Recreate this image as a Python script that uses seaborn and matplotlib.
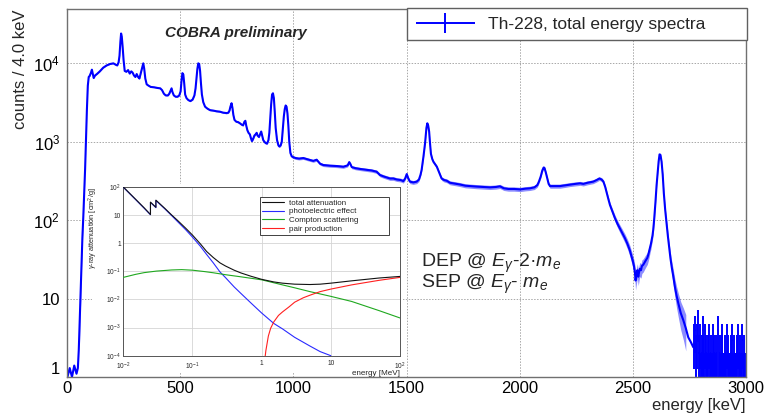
import numpy as np
import pandas as pd
import matplotlib
matplotlib.use('Agg')
import matplotlib.pyplot as plt
import matplotlib.ticker as mticker
from matplotlib.patches import Rectangle
from matplotlib.container import ErrorbarContainer
from matplotlib.legend_handler import HandlerErrorbar
import seaborn as sns

### spectrum: energy [keV] and counts per 4 keV bin
energy_kev = [
    2, 12, 22, 32, 42, 48, 52, 56, 60, 64,
    68, 72, 76, 80, 84, 88, 92, 96, 100, 106,
    110, 114, 118, 124, 132, 145, 160, 175, 190, 205,
    215, 222, 228, 232, 236, 239, 242, 246, 250, 255,
    262, 270, 277, 284, 290, 296, 302, 308, 314, 320,
    326, 332, 337, 341, 346, 352, 360, 370, 385, 400,
    412, 420, 428, 436, 446, 452, 458, 462, 466, 472,
    480, 488, 496, 502, 506, 510, 514, 518, 522, 528,
    536, 545, 555, 563, 568, 572, 576, 580, 584, 588,
    592, 596, 602, 610, 620, 632, 645, 660, 675, 690,
    705, 713, 718, 722, 727, 731, 735, 740, 748, 756,
    764, 772, 778, 784, 788, 792, 797, 802, 808, 813,
    817, 822, 828, 834, 838, 842, 848, 853, 858, 862,
    867, 872, 878, 884, 890, 894, 898, 902, 906, 910,
    914, 918, 922, 928, 934, 938, 944, 949, 953, 958,
    962, 966, 970, 974, 978, 982, 987, 993, 1000, 1010,
    1025, 1044, 1060, 1074, 1088, 1103, 1118, 1132, 1147, 1162,
    1192, 1221, 1240, 1247, 1252, 1258, 1275, 1295, 1320, 1346,
    1368, 1383, 1400, 1427, 1442, 1457, 1474, 1486, 1494, 1501,
    1508, 1515, 1530, 1545, 1555, 1562, 1567, 1575, 1582, 1588,
    1592, 1596, 1600, 1604, 1608, 1614, 1619, 1626, 1634, 1645,
    1655, 1666, 1678, 1692, 1707, 1722, 1736, 1760, 1781, 1810,
    1840, 1869, 1895, 1913, 1930, 1950, 1975, 2002, 2025, 2046,
    2065, 2078, 2085, 2093, 2100, 2106, 2110, 2116, 2122, 2128,
    2134, 2150, 2178, 2200, 2222, 2245, 2267, 2281, 2300, 2325,
    2340, 2352, 2362, 2370, 2378, 2385, 2392, 2399, 2410, 2421,
    2432, 2443, 2454, 2465, 2476, 2487, 2495, 2500, 2505, 2509,
    2512, 2516, 2520, 2524, 2528, 2531, 2536, 2540, 2546, 2552,
    2558, 2564, 2568, 2572, 2576, 2580, 2583, 2587, 2590, 2594,
    2597, 2600, 2605, 2610, 2614, 2618, 2622, 2627, 2632, 2637,
    2643, 2649, 2655, 2660, 2666, 2672, 2679, 2686, 2693, 2701,
    2712, 2723, 2734, 2745, 2756, 2767]
counts = [
    1.0, 1.3, 1.0, 1.4, 1.1, 1.3, 2.2, 5, 12, 28,
    60, 110, 220, 450, 1100, 2600, 5200, 6700, 6900, 7600,
    8300, 7300, 6500, 7000, 7300, 7900, 8800, 9400, 9800, 10000,
    9600, 9400, 10300, 12500, 19000, 24000, 22000, 16000, 11000, 8000,
    7800, 8200, 7400, 7900, 7600, 7000, 6700, 7300, 6700, 6400,
    7500, 8800, 10000, 8600, 6400, 5400, 5200, 5000, 4950, 4850,
    4800, 4550, 4100, 3900, 3900, 4100, 4500, 4800, 4300, 3900,
    3750, 3750, 3900, 4400, 6000, 7500, 7200, 5500, 4000, 3600,
    3400, 3300, 3450, 3900, 4800, 6500, 8500, 10000, 9800, 8000,
    5500, 4000, 3200, 2800, 2650, 2530, 2500, 2450, 2420, 2350,
    2320, 2350, 2500, 2800, 3100, 2700, 2200, 1900, 1800, 1780,
    1720, 1650, 1620, 1800, 1850, 1600, 1400, 1300, 1240, 1100,
    1020, 1080, 1200, 1250, 1300, 1200, 1150, 1250, 1350, 1200,
    1050, 1000, 960, 950, 1050, 1300, 2000, 3000, 4000, 4150,
    3600, 2400, 1500, 1050, 900, 870, 900, 1000, 1400, 2100,
    2600, 2900, 2800, 2300, 1600, 1000, 720, 650, 635, 620,
    610, 620, 600, 585, 570, 590, 525, 505, 500, 495,
    490, 480, 500, 550, 520, 475, 460, 450, 440, 430,
    415, 376, 360, 340, 340, 330, 325, 315, 340, 387,
    340, 310, 303, 310, 330, 380, 440, 650, 955, 1500,
    1720, 1600, 1350, 950, 700, 600, 555, 520, 480, 400,
    340, 325, 318, 300, 295, 290, 285, 275, 272, 268,
    265, 262, 265, 270, 255, 250, 250, 247, 252, 255,
    262, 280, 310, 360, 430, 470, 460, 400, 340, 290,
    272, 272, 272, 278, 285, 290, 295, 290, 300, 310,
    325, 340, 330, 310, 265, 220, 185, 156, 128, 106,
    90, 78, 68, 59, 50, 41, 34, 30, 26, 22,
    17, 20, 23, 19, 22, 24, 23, 26, 27, 29,
    31, 33, 36, 40, 45, 50, 56, 64, 75, 100,
    130, 170, 280, 420, 560, 690, 680, 556, 380, 220,
    135, 91, 62, 46, 33, 25, 19, 14, 11, 8.7,
    6.5, 5.3, 4.2, 3.2, 2.8, 2.4]

# low-statistics tail, 4 keV bins from 2772 keV on
tail_start_kev = 2772
tail_counts = [
    3, 4, 2, 3, 5, 2, 3, 1, 2, 4,
    2, 1, 3, 2, 1, 2, 3, 1, 2, 1,
    1, 3, 2, 1, 2, 1, 4, 1, 2, 1,
    2, 3, 1, 1, 2, 1, 3, 2, 1, 1,
    2, 1, 3, 1, 2, 1, 1, 2, 3, 1,
    2, 1, 1, 3, 1, 2, 1]

### inset: gamma-ray attenuation [cm^2/g] vs energy [MeV]
total_mev = [0.01, 0.015, 0.02, 0.0247, 0.0247, 0.0296, 0.0296, 0.04, 0.05, 0.06,
             0.08, 0.1, 0.13, 0.16, 0.2, 0.25, 0.3, 0.4, 0.5, 0.7,
             1, 1.5, 2, 3, 5, 7, 10, 20, 30, 50, 100]
total_att = [100, 37, 18.2, 10.5, 29, 19, 34, 17.2, 10.1, 6.7,
             3.4, 1.95, 0.95, 0.51, 0.31, 0.2, 0.155, 0.11, 0.088, 0.067,
             0.052, 0.042, 0.038, 0.035, 0.034, 0.035, 0.038, 0.046, 0.051, 0.058, 0.066]
photo_mev = [0.01, 0.015, 0.02, 0.0247, 0.0247, 0.0296, 0.0296, 0.04, 0.05, 0.06,
             0.08, 0.1, 0.13, 0.16, 0.2, 0.25, 0.3, 0.4, 0.5, 0.7,
             1, 1.5, 2, 3, 5, 7, 10]
photo_att = [98, 36, 17.6, 10.3, 28.3, 18.4, 33.3, 16.5, 9.6, 6.1,
             3.0, 1.65, 0.78, 0.40, 0.20, 0.095, 0.06, 0.028, 0.0165, 0.0075,
             0.0033, 0.0014, 0.0009, 0.00045, 0.00022, 0.00014, 0.0001]
compton_mev = [0.01, 0.015, 0.02, 0.03, 0.05, 0.07, 0.1, 0.15, 0.2, 0.3,
               0.5, 1, 2, 3, 5, 10, 20, 50, 100]
compton_att = [0.061, 0.078, 0.09, 0.102, 0.112, 0.115, 0.11, 0.098, 0.089, 0.076,
               0.064, 0.050, 0.033, 0.026, 0.019, 0.0129, 0.0085, 0.0040, 0.0022]
pair_mev = [1.06, 1.1, 1.15, 1.25, 1.35, 1.5, 1.75, 2, 2.5, 3,
            4, 5, 7, 10, 20, 30, 50, 100]
pair_att = [1e-5, 6e-5, 1.5e-4, 5e-4, 9.5e-4, 0.0016, 0.0027, 0.0036, 0.0055, 0.0080,
            0.0115, 0.0142, 0.019, 0.0234, 0.033, 0.039, 0.048, 0.061]

inset_names = ['total attenuation', 'photoelectric effect', 'Compton scattering', 'pair production']
inset_colors = ['#111111', '#2a2aff', '#1fa81f', '#ff2020']
inset_order = [5, 3, 3, 3]   # total attenuation drawn on top

sns.set_style('white')
plt.rcParams['font.family'] = ['Liberation Sans', 'DejaVu Sans']
plt.rcParams['mathtext.fontset'] = 'custom'
plt.rcParams['mathtext.rm'] = 'Liberation Sans'
plt.rcParams['mathtext.it'] = 'Liberation Sans:italic'
plt.rcParams['mathtext.bf'] = 'Liberation Sans:bold'

W, H = 767.0, 415.0


def px_box(x0, y0, x1, y1):
    return [x0 / W, 1 - y1 / H, (x1 - x0) / W, (y1 - y0) / H]


def pow_fmt(v, pos):
    p = int(round(np.log10(v)))
    if p == 0:
        return '1'
    if p == 1:
        return '10'
    return r'$10^{%d}$' % p


fig = plt.figure(figsize=(7.67, 4.15), dpi=100)
ax = fig.add_axes(px_box(67, 9, 746, 377))
ax.set_yscale('log')

spec = pd.DataFrame({'energy': energy_kev, 'counts': counts})
err = np.sqrt(spec['counts'])
ax.fill_between(spec['energy'], np.clip(spec['counts'] - err, 0.1, None),
                spec['counts'] + err, where=spec['counts'] >= 4,
                color='blue', alpha=0.45, lw=0)
sns.lineplot(data=spec, x='energy', y='counts', ax=ax, color='blue', lw=1.5,
             estimator=None, sort=False)

tc = np.array(tail_counts, dtype=float)
tail_e = tail_start_kev + 4 * np.arange(len(tc))
lo = tc - np.clip(tc - np.sqrt(tc), 0.05, None)
eb = ax.errorbar(tail_e, tc, yerr=[lo, np.sqrt(tc)], xerr=2, fmt='none',
                 ecolor='blue', elinewidth=1.4, label='Th-228, total energy spectra')

ax.set_xlim(0, 3000)
ax.set_ylim(1, 4.93e4)
ax.xaxis.set_major_locator(mticker.FixedLocator(range(0, 3001, 500)))
ax.xaxis.set_minor_locator(mticker.MultipleLocator(100))
ax.yaxis.set_major_locator(mticker.FixedLocator([1, 10, 100, 1e3, 1e4]))
ax.yaxis.set_minor_locator(mticker.LogLocator(subs=np.arange(2, 10), numticks=20))
ax.yaxis.set_minor_formatter(mticker.NullFormatter())
ax.yaxis.set_major_formatter(mticker.FuncFormatter(pow_fmt))
ax.tick_params(which='both', direction='in', color='#606060', labelcolor='black',
               labelsize=12, top=False, right=False)
ax.tick_params(which='major', length=7.5, width=0.8)
ax.tick_params(which='minor', length=4, width=0.8)
ax.tick_params(axis='y', pad=5)
ax.tick_params(axis='x', pad=3)
ax.grid(True, which='major', ls=(0, (1.5, 1.5)), color='#a8a8a8', lw=0.7)
ax.set_axisbelow(True)
for s in ax.spines.values():
    s.set_color('#707070')
    s.set_linewidth(1.0)

ax.set_xlabel('energy [keV]', loc='right', fontsize=12)
ax.xaxis.set_label_coords(1.0, -0.057)
ax.set_ylabel('counts / 4.0 keV', loc='top', fontsize=12)
ax.yaxis.set_label_coords(-0.057, 1.0)
ax.yaxis.get_major_ticks()[0].label1.set_verticalalignment('bottom')

leg = ax.legend(handles=[eb], labels=['Th-228, total energy spectra'],
                loc='upper left', bbox_to_anchor=(340 / 679, 1.003, 340 / 679, 0),
                mode='expand', borderaxespad=0, fontsize=12.5, handlelength=3.4,
                handletextpad=0.75, borderpad=0.5, fancybox=False, framealpha=1,
                edgecolor='#606060',
                handler_map={ErrorbarContainer: HandlerErrorbar(xerr_size=1.7, yerr_size=0.58)})
leg.get_frame().set_linewidth(1.0)

ax.text(0.2489, 0.9348, 'COBRA preliminary', transform=ax.transAxes, ha='center',
        va='center', fontsize=11, fontweight='bold', fontstyle='italic')
ax.text(0.5214, 0.2989, 'DEP @ $E_{\\gamma}$-2·$m_{e}$', transform=ax.transAxes,
        ha='left', va='baseline', fontsize=14)
ax.text(0.5214, 0.2418, 'SEP @ $E_{\\gamma}$- $m_{e}$', transform=ax.transAxes,
        ha='left', va='baseline', fontsize=14)

# white pad behind the inset
pad = px_box(92, 184, 403, 372)
fig.add_artist(Rectangle((pad[0], pad[1]), pad[2], pad[3], transform=fig.transFigure,
                         facecolor='white', edgecolor='none', zorder=1))

ins = fig.add_axes(px_box(123.3, 187, 400, 355.7), zorder=3)
ins.set_xscale('log')
ins.set_yscale('log')
for e, a, name, col, z in zip([total_mev, photo_mev, compton_mev, pair_mev],
                              [total_att, photo_att, compton_att, pair_att],
                              inset_names, inset_colors, inset_order):
    sns.lineplot(x=e, y=a, ax=ins, color=col, lw=0.8, sort=False, estimator=None,
                 label=name, zorder=z)
ins.set_xlim(1e-2, 1e2)
ins.set_ylim(1e-4, 1e2)
ins.xaxis.set_major_locator(mticker.LogLocator(numticks=10))
ins.xaxis.set_minor_locator(mticker.LogLocator(subs=np.arange(2, 10), numticks=20))
ins.xaxis.set_minor_formatter(mticker.NullFormatter())
ins.yaxis.set_major_locator(mticker.LogLocator(numticks=10))
ins.yaxis.set_minor_locator(mticker.NullLocator())
ins.xaxis.set_major_formatter(mticker.FuncFormatter(pow_fmt))
ins.yaxis.set_major_formatter(mticker.FuncFormatter(pow_fmt))
ins.tick_params(which='both', direction='in', color='#555555', labelsize=4.8,
                top=False, right=False)
ins.tick_params(axis='x', pad=3.3)
ins.tick_params(axis='y', pad=1.8)
ins.tick_params(which='major', length=3, width=0.5)
ins.tick_params(which='minor', length=1.8, width=0.5)
ins.grid(True, which='major', color='#d4d4d4', lw=0.6, ls='-')
ins.set_axisbelow(True)
for s in ins.spines.values():
    s.set_color('#555555')
    s.set_linewidth(0.7)
ins.set_xlabel('energy [MeV]', loc='right', fontsize=5.8)
ins.xaxis.set_label_coords(1.0, -0.082)
ins.set_ylabel(r'$\gamma$-ray attenuation [cm$^{2}$/g]', loc='top', fontsize=5.3)
ins.yaxis.set_label_coords(-0.084, 1.0)
ileg = ins.legend(loc='upper left', bbox_to_anchor=(0.494, 0.941, 0.466, 0), mode='expand',
                  borderaxespad=0, fontsize=5.8, handlelength=2.7, handletextpad=0.6,
                  labelspacing=0.15, borderpad=0.25, fancybox=False, framealpha=1,
                  edgecolor='#404040')
ileg.get_frame().set_linewidth(0.7)

fig.savefig('out.png', dpi=100)
